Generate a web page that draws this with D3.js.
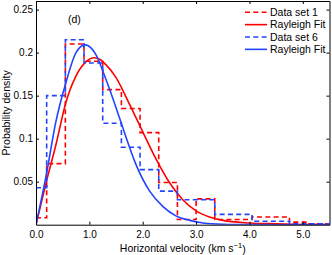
<!DOCTYPE html>
<html>
<head>
<meta charset="utf-8">
<script src="https://cdn.jsdelivr.net/npm/d3@7"></script>
<style>
    body { margin: 0; background: #fff; }
    text { font-family: "Liberation Sans", Arial, sans-serif; fill: #000; }
</style>
</head>
<body>
<svg id="chart" width="332" height="255"></svg>
<script>
// bin edges shared by both histograms (km/s)
var binEdges = [0, 0.2, 0.55, 0.9, 1.25, 1.6, 1.95, 2.3, 2.65, 3.0, 3.35, 3.7, 4.05, 4.4, 4.75, 5.1, 5.5];

var set1Values = [0.008, 0.071, 0.210, 0.190, 0.157, 0.135, 0.107, 0.049, 0.006, 0.030, 0.006, 0.006, 0.009, 0.009, 0.003, 0.001];
var set6Values = [0.043, 0.150, 0.215, 0.188, 0.118, 0.090, 0.064, 0.039, 0.029, 0.029, 0.012, 0.012, 0.004, 0.004, 0.001, 0.001];

// rayleigh fits
var fit1X = [0, 0.19, 0.37, 0.56, 0.75, 0.93, 1.09, 1.2, 1.31, 1.50, 1.76, 2.0, 2.26, 2.5, 2.75, 3.0, 3.25, 3.5, 4.0, 4.5, 5.0, 5.5];
var fit1Y = [0, 0.049, 0.092, 0.142, 0.173, 0.189, 0.194, 0.192, 0.186, 0.171, 0.139, 0.108, 0.075, 0.049, 0.029, 0.016, 0.009, 0.005, 0.002, 0.001, 0.0003, 0.0001];

var fit6X = [0, 0.19, 0.37, 0.56, 0.75, 0.92, 1.12, 1.31, 1.50, 1.63, 1.88, 2.13, 2.38, 2.63, 2.88, 3.13, 3.5, 4.0, 5.0, 5.5];
var fit6Y = [0, 0.057, 0.119, 0.165, 0.200, 0.209, 0.198, 0.169, 0.136, 0.112, 0.069, 0.039, 0.021, 0.010, 0.005, 0.002, 0.0005, 0.0001, 0, 0];

var xTicks = [0, 1, 2, 3, 4, 5];
var yTicks = [0.05, 0.1, 0.15, 0.2, 0.25];

var legendLabels = ["Data set 1", "Rayleigh Fit", "Data set 6", "Rayleigh Fit"];

var RED = "#ff0000";
var BLUE = "#2244ff";

var margin = {top: 1, right: 2.5, bottom: 30.3, left: 36};
var width = 332 - margin.left - margin.right;
var height = 255 - margin.top - margin.bottom;

var svg = d3.select("#chart");
var g = svg.append("g").attr("transform", "translate(" + margin.left + "," + margin.top + ")");

var x = d3.scaleLinear().domain([0, 5.5]).range([0, width]);
var y = d3.scaleLinear().domain([0, 0.26]).range([height, 0]);

g.append("clipPath").attr("id", "clip")
    .append("rect").attr("width", width).attr("height", height);

function stairs(values)
{
    return binEdges.map(function (e, i) {
        return [e, values[Math.min(i, values.length - 1)]];
    });
}

function pairs(xs, ys)
{
    return xs.map(function (d, i) { return [d, ys[i]]; });
}

var stepLine = d3.line()
    .x(function (d) { return x(d[0]); })
    .y(function (d) { return y(d[1]); })
    .curve(d3.curveStepAfter);

var fitLine = d3.line()
    .x(function (d) { return x(d[0]); })
    .y(function (d) { return y(d[1]); })
    .curve(d3.curveMonotoneX);

var plot = g.append("g").attr("clip-path", "url(#clip)");

var series = [
    {path: stepLine(stairs(set1Values)), color: RED, dash: "5,3.3"},
    {path: fitLine(pairs(fit1X, fit1Y)), color: RED, dash: null},
    {path: stepLine(stairs(set6Values)), color: BLUE, dash: "5,3.3"},
    {path: fitLine(pairs(fit6X, fit6Y)), color: BLUE, dash: null}
];

plot.selectAll("path.series")
    .data(series)
    .enter().append("path")
    .attr("class", "series")
    .attr("d", function (d) { return d.path; })
    .attr("fill", "none")
    .attr("stroke", function (d) { return d.color; })
    .attr("stroke-width", 1.6)
    .attr("stroke-dasharray", function (d) { return d.dash; });

// axes, matlab style: ticks inside, box all round
function styleAxis(sel)
{
    sel.selectAll("path.domain").attr("stroke", "#000").attr("stroke-width", 1);
    sel.selectAll(".tick line").attr("stroke", "#000");
    sel.selectAll("text").style("font-size", "10px").attr("fill", "#000");
}

g.append("g")
    .attr("transform", "translate(0," + height + ")")
    .call(d3.axisBottom(x).tickValues(xTicks).tickSize(-3).tickSizeOuter(0).tickPadding(6))
    .call(styleAxis);

g.append("g")
    .call(d3.axisLeft(y).tickValues(yTicks).tickSize(-3).tickSizeOuter(0).tickPadding(3)
        .tickFormat(function (d) { return String(+d.toFixed(2)); }))
    .call(styleAxis);

g.append("g")
    .call(d3.axisTop(x).tickValues(xTicks).tickSize(-3).tickSizeOuter(0).tickFormat(""))
    .call(styleAxis);

g.append("g")
    .attr("transform", "translate(" + width + ",0)")
    .call(d3.axisRight(y).tickValues(yTicks).tickSize(-3).tickSizeOuter(0).tickFormat(""))
    .call(styleAxis);

// labels
g.append("text")
    .attr("x", width / 2)
    .attr("y", height + 27)
    .attr("text-anchor", "middle")
    .style("font-size", "10.5px")
    .text("Horizontal velocity (km s")
    .append("tspan").attr("dy", "-0.45em").style("font-size", "7.5px").text("−1")
    .select(function () { return this.parentNode; })
    .append("tspan").attr("dy", "0.45em").text(")");

svg.append("text")
    .attr("transform", "translate(10," + (margin.top + height / 2) + ") rotate(-90)")
    .attr("text-anchor", "middle")
    .style("font-size", "10.5px")
    .text("Probability density");

g.append("text")
    .attr("x", x(0.6))
    .attr("y", y(0.2345))
    .style("font-size", "10.5px")
    .text("(d)");

// legend
var legend = g.append("g").attr("transform", "translate(" + (245 - margin.left) + "," + (12.3 - margin.top) + ")");

var legendItems = legend.selectAll("g")
    .data(legendLabels)
    .enter().append("g")
    .attr("transform", function (d, i) { return "translate(0," + (i * 12.35) + ")"; });

legendItems.append("line")
    .attr("x1", 0).attr("x2", 22)
    .attr("stroke", function (d, i) { return series[i].color; })
    .attr("stroke-width", 1.6)
    .attr("stroke-dasharray", function (d, i) { return series[i].dash; });

legendItems.append("text")
    .attr("x", 25)
    .attr("y", 3.8)
    .style("font-size", "10.5px")
    .text(function (d) { return d; });
</script>
</body>
</html>
